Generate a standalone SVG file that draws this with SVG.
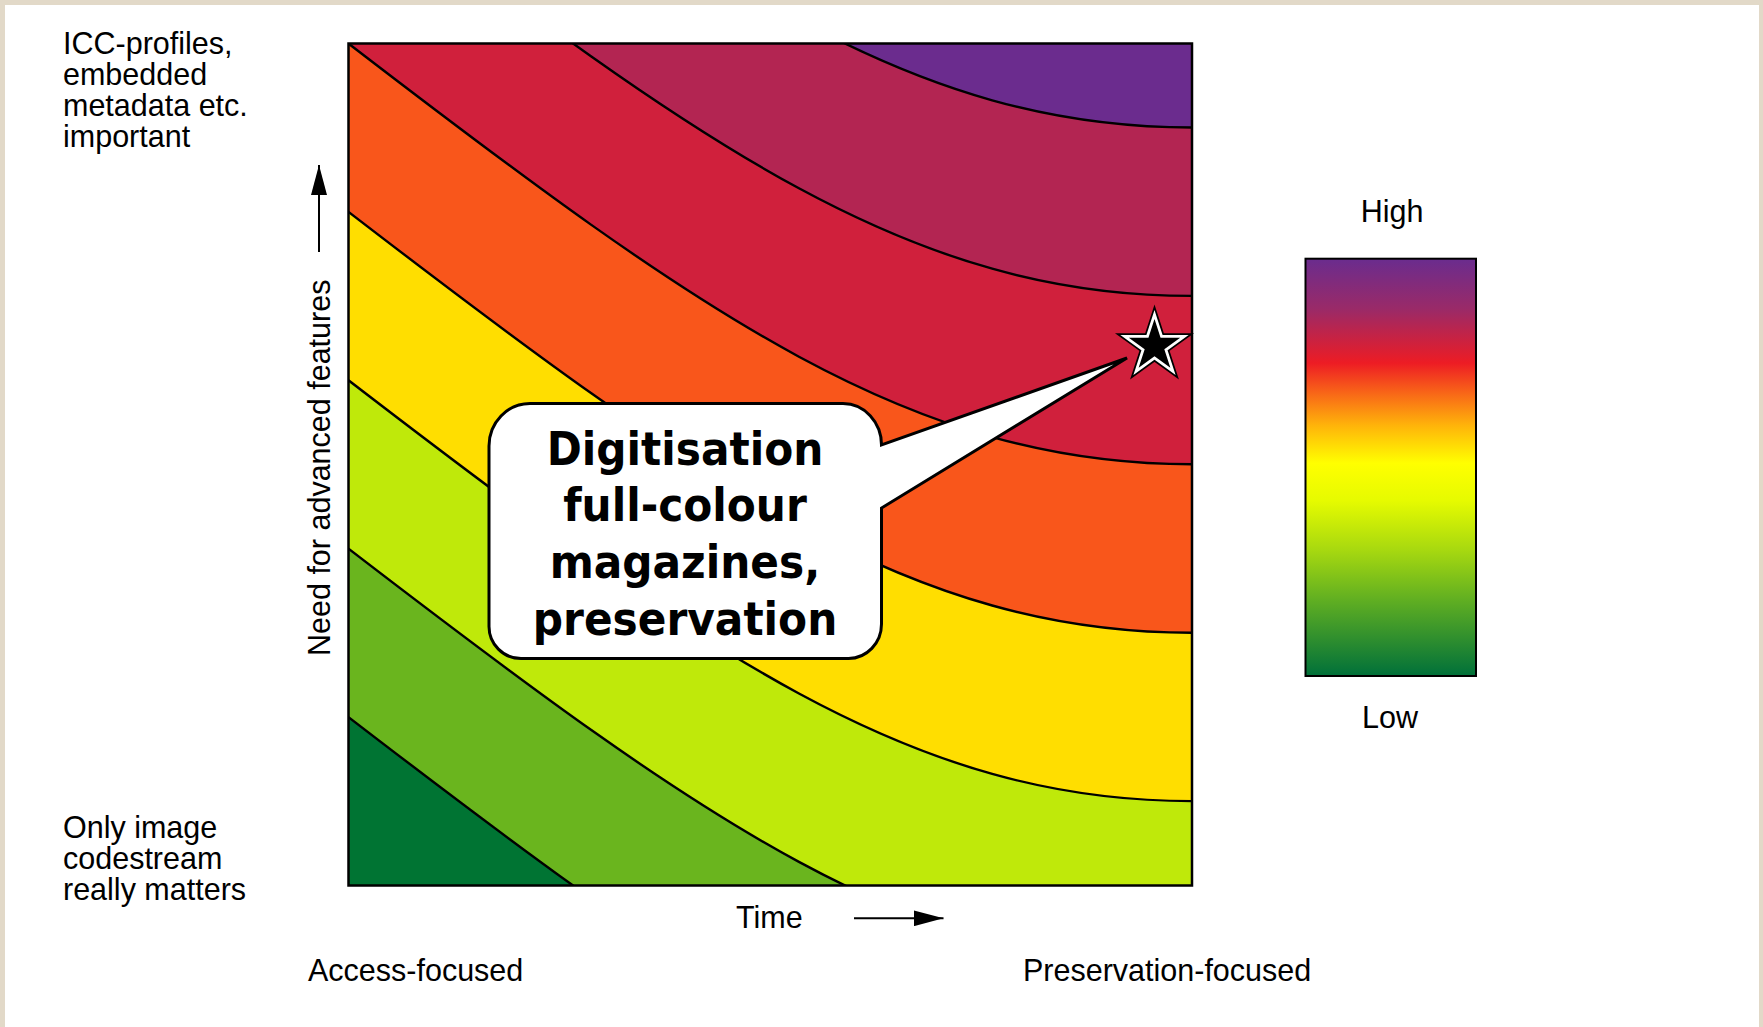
<svg xmlns="http://www.w3.org/2000/svg" xmlns:xlink="http://www.w3.org/1999/xlink" width="1763" height="1027" viewBox="0 0 1763 1027">
  <style>
    .lbl { font-family: "Liberation Sans", Arial, Helvetica, sans-serif; font-size: 30.5px; fill: #000; }
    .call { font-family: "DejaVu Sans Condensed", "DejaVu Sans", Verdana, sans-serif; font-stretch: condensed; font-weight: bold; font-size: 47px; fill: #000; text-anchor: middle; }
    .curve { fill: none; stroke: #000; stroke-width: 2.4; }
    .axis { stroke: #000; stroke-width: 2; fill: none; }
  </style>
  <defs>
    <clipPath id="plotClip">
      <rect x="348.5" y="43.5" width="843.5" height="842"/>
    </clipPath>
    <path id="band" d="M348.5,43.5 C705,317.6 912,464.3 1192,464.3 L1192,1700 L348.5,1700 Z"/>
    <path id="line" d="M348.5,43.5 C705,317.6 912,464.3 1192,464.3"/>
    <path id="star" d="M0,-27 L6.06,-8.35 L25.68,-8.35 L9.81,3.19 L15.87,21.84 L0,10.31 L-15.87,21.84 L-9.81,3.19 L-25.68,-8.35 L-6.06,-8.35 Z"/>
    <linearGradient id="legendGrad" x1="0" y1="0" x2="0" y2="1">
      <stop offset="0" stop-color="#6a2c8e"/>
      <stop offset="0.12" stop-color="#9a2a68"/>
      <stop offset="0.25" stop-color="#ed1c24"/>
      <stop offset="0.32" stop-color="#f86418"/>
      <stop offset="0.4" stop-color="#ffb40a"/>
      <stop offset="0.49" stop-color="#ffff00"/>
      <stop offset="0.58" stop-color="#e6fb00"/>
      <stop offset="0.7" stop-color="#a6d810"/>
      <stop offset="0.82" stop-color="#5fae22"/>
      <stop offset="1" stop-color="#00703a"/>
    </linearGradient>
    <marker id="arrow" viewBox="0 0 30 16" refX="30" refY="8" markerWidth="30" markerHeight="16" markerUnits="userSpaceOnUse" orient="auto">
      <path d="M0,0 L30,8 L0,16 Z" fill="#000"/>
    </marker>
  </defs>

  <!-- background -->
  <rect x="0" y="0" width="1763" height="1027" fill="#e2d9c8"/>
  <rect x="5" y="5" width="1754" height="1022" fill="#ffffff"/>

  <!-- contour plot -->
  <g id="plot">
    <g clip-path="url(#plotClip)">
      <rect x="348.5" y="43.5" width="843.5" height="842" fill="#6b2c8e"/>
      <use xlink:href="#band" transform="translate(0,-336.8)" fill="#b32552"/>
      <use xlink:href="#band" transform="translate(0,-168.4)" fill="#d0203c"/>
      <use xlink:href="#band" transform="translate(0,0)" fill="#f9561b"/>
      <use xlink:href="#band" transform="translate(0,168.4)" fill="#ffde00"/>
      <use xlink:href="#band" transform="translate(0,336.8)" fill="#bfe90a"/>
      <use xlink:href="#band" transform="translate(0,505.2)" fill="#6ab51e"/>
      <use xlink:href="#band" transform="translate(0,673.6)" fill="#007433"/>
      <use xlink:href="#line" class="curve" transform="translate(0,-336.8)"/>
      <use xlink:href="#line" class="curve" transform="translate(0,-168.4)"/>
      <use xlink:href="#line" class="curve"/>
      <use xlink:href="#line" class="curve" transform="translate(0,168.4)"/>
      <use xlink:href="#line" class="curve" transform="translate(0,336.8)"/>
      <use xlink:href="#line" class="curve" transform="translate(0,505.2)"/>
      <use xlink:href="#line" class="curve" transform="translate(0,673.6)"/>
    </g>
    <rect x="348.5" y="43.5" width="843.5" height="842" fill="none" stroke="#000" stroke-width="2.5"/>
  </g>

  <!-- star marker -->
  <g id="star-marker" transform="translate(1154.5,346)">
    <use xlink:href="#star" fill="none" stroke="#000" stroke-width="9" stroke-linejoin="miter" stroke-miterlimit="10"/>
    <use xlink:href="#star" fill="none" stroke="#fff" stroke-width="5.5" stroke-linejoin="miter" stroke-miterlimit="10"/>
    <use xlink:href="#star" fill="#000"/>
  </g>

  <!-- callout -->
  <g id="callout">
    <path d="M530,403.5 H843 A38.5,41.5 0 0 1 881.5,445 L1127,358 L881.5,508 V624 A33,34.5 0 0 1 848.5,658.5 H521 A32,32 0 0 1 489,626.5 V446 A41,42.5 0 0 1 530,403.5 Z" fill="#fff" stroke="#000" stroke-width="3" stroke-linejoin="miter"/>
    <text class="call" x="685" y="465">Digitisation</text>
    <text class="call" x="685" y="521">full-colour</text>
    <text class="call" x="685" y="578">magazines,</text>
    <text class="call" x="685" y="635">preservation</text>
  </g>

  <!-- axis arrows -->
  <g id="connectors">
    <line class="axis" x1="319" y1="252" x2="319" y2="165" marker-end="url(#arrow)"/>
    <line class="axis" x1="854" y1="918.3" x2="943.5" y2="918.3" marker-end="url(#arrow)"/>
  </g>

  <g id="y-top-label">
    <text class="lbl" x="63" y="54">ICC-profiles,</text>
    <text class="lbl" x="63" y="85">embedded</text>
    <text class="lbl" x="63" y="116">metadata etc.</text>
    <text class="lbl" x="63" y="147">important</text>
  </g>
  <g id="y-bottom-label">
    <text class="lbl" x="63" y="838">Only image</text>
    <text class="lbl" x="63" y="869">codestream</text>
    <text class="lbl" x="63" y="900">really matters</text>
  </g>
  <g id="y-axis-label">
    <text class="lbl" transform="translate(330,656) rotate(-90)" x="0" y="0">Need for advanced features</text>
  </g>
  <g id="x-axis-label">
    <text class="lbl" x="736" y="928">Time</text>
    <text class="lbl" x="308" y="981">Access-focused</text>
    <text class="lbl" x="1023" y="981">Preservation-focused</text>
  </g>

  <!-- legend -->
  <g id="legend">
    <text class="lbl" x="1392" y="222" text-anchor="middle">High</text>
    <rect x="1305.5" y="258.7" width="170.5" height="417.3" fill="url(#legendGrad)" stroke="#000" stroke-width="2"/>
    <text class="lbl" x="1390" y="728" text-anchor="middle">Low</text>
  </g>
</svg>
